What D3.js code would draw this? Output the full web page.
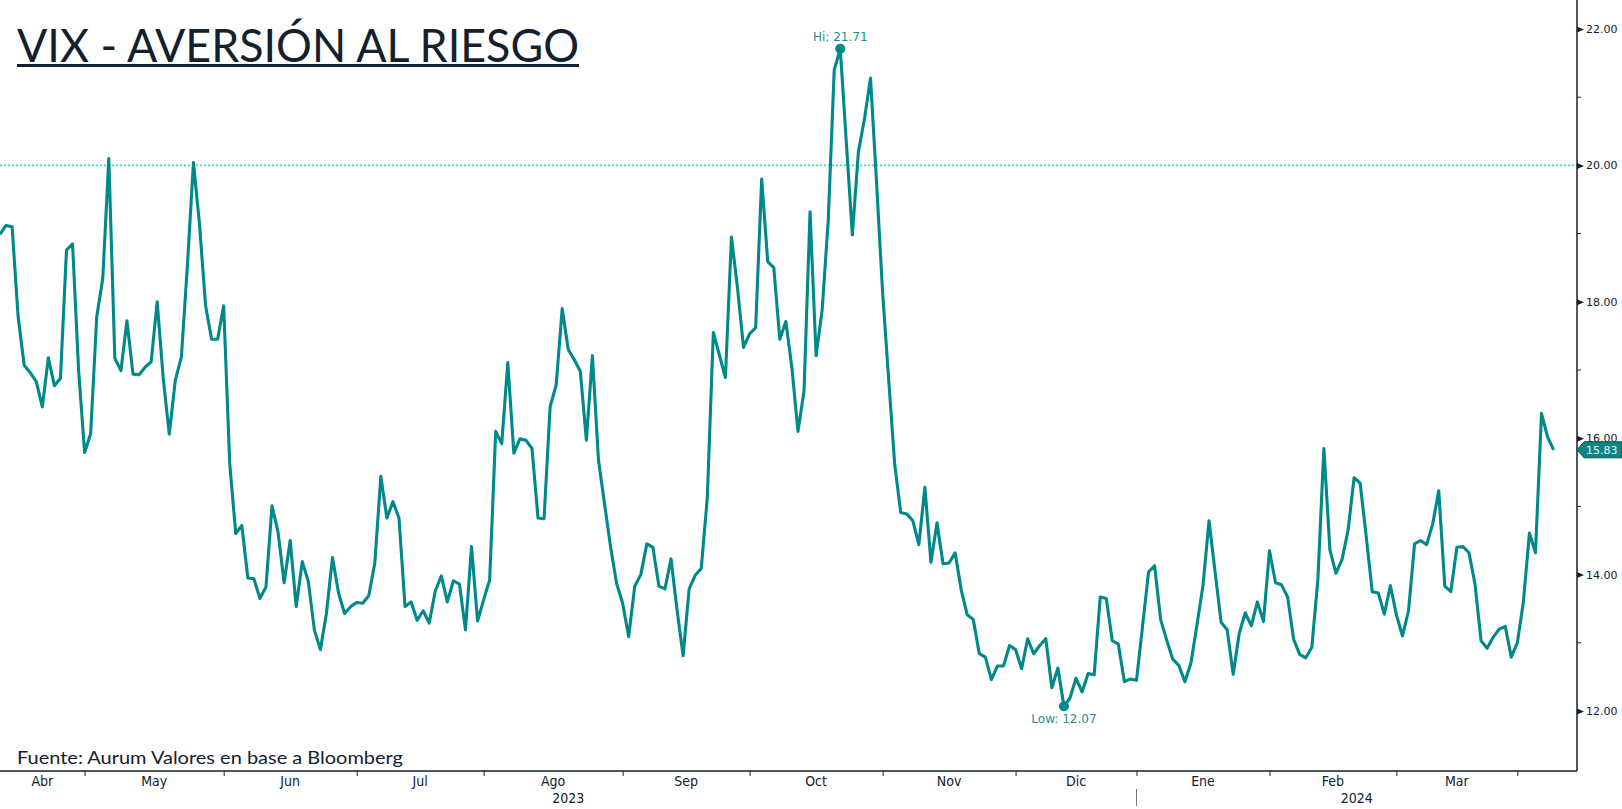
<!DOCTYPE html>
<html>
<head>
<meta charset="utf-8">
<script src="https://cdn.jsdelivr.net/npm/d3@7"></script>
<style>
  html, body { margin: 0; padding: 0; background: #fff; }
  svg { display: block; }
  .axis-lbl { font-family: "DejaVu Sans", Verdana, sans-serif; font-size: 11px; fill: #13202e; }
  .month-lbl { font-family: "Liberation Sans Narrow", "DejaVu Sans Condensed", "Arial Narrow", sans-serif; font-size: 14px; fill: #13202e; }
</style>
</head>
<body>
<div id="chart"></div>
<script>
// VIX daily closes (one value per weekday)
const vix = [
  18.99, 19.12, 19.10, 17.78, 17.07, 16.96, 16.83, 16.46, 17.18, 16.77,
  16.88, 18.76, 18.85, 17.00, 15.79, 16.07, 17.78, 18.34, 20.10, 17.17,
  16.99, 17.72, 16.94, 16.93, 17.04, 17.12, 18.00, 16.88, 16.06, 16.85,
  17.19, 18.53, 20.04, 19.14, 17.95, 17.45, 17.45, 17.94, 15.63, 14.60,
  14.72, 13.95, 13.94, 13.65, 13.82, 15.01, 14.62, 13.88, 14.50, 13.53,
  14.19, 13.90, 13.19, 12.90, 13.43, 14.25, 13.73, 13.43, 13.53, 13.59,
  13.58, 13.69, 14.17, 15.44, 14.83, 15.07, 14.83, 13.53, 13.60, 13.33,
  13.47, 13.29, 13.76, 13.98, 13.60, 13.91, 13.86, 13.19, 14.41, 13.32,
  13.63, 13.92, 16.10, 15.92, 17.11, 15.78, 15.99, 15.97, 15.85, 14.83,
  14.82, 16.46, 16.78, 17.90, 17.30, 17.15, 16.98, 15.97, 17.21, 15.68,
  15.04, 14.41, 13.87, 13.58, 13.09, 13.83, 14.00, 14.45, 14.40, 13.83,
  13.79, 14.23, 13.48, 12.81, 13.79, 13.99, 14.09, 15.12, 17.55, 17.22,
  16.89, 18.95, 18.20, 17.33, 17.53, 17.62, 19.80, 18.59, 18.50, 17.45,
  17.71, 17.03, 16.10, 16.69, 19.32, 17.21, 17.88, 19.18, 21.40, 21.71,
  20.34, 18.98, 20.20, 20.68, 21.28, 19.75, 18.14, 16.87, 15.62, 14.91,
  14.89, 14.79, 14.44, 15.28, 14.18, 14.76, 14.16, 14.17, 14.32, 13.78,
  13.41, 13.34, 12.84, 12.79, 12.46, 12.66, 12.66, 12.96, 12.90, 12.62,
  13.06, 12.84, 12.96, 13.06, 12.34, 12.63, 12.07, 12.19, 12.48, 12.28,
  12.55, 12.53, 13.67, 13.65, 13.03, 12.98, 12.43, 12.47, 12.45, 13.24,
  14.04, 14.13, 13.34, 13.04, 12.76, 12.67, 12.43, 12.70, 13.26, 13.84,
  14.79, 14.04, 13.30, 13.19, 12.54, 13.14, 13.44, 13.25, 13.60, 13.31,
  14.35, 13.88, 13.85, 13.67, 13.05, 12.83, 12.78, 12.93, 13.92, 15.85,
  14.36, 14.02, 14.22, 14.65, 15.42, 15.34, 14.56, 13.75, 13.73, 13.42,
  13.84, 13.41, 13.10, 13.47, 14.45, 14.50, 14.44, 14.74, 15.23, 13.83,
  13.75, 14.40, 14.41, 14.32, 13.86, 13.03, 12.92, 13.08, 13.20, 13.24,
  12.79, 13.00, 13.60, 14.61, 14.32, 16.36, 16.02, 15.83
];

// month boundaries (index of last point before each new month)
const monthTicks = [14, 37, 59, 80, 103, 124, 146, 168, 188, 210, 231, 251];
const monthNames = ['Abr', 'May', 'Jun', 'Jul', 'Ago', 'Sep', 'Oct', 'Nov', 'Dic', 'Ene', 'Feb', 'Mar'];
const years = ['2023', '2024'];
const yearBreak = 188;

const yTicks = [12, 14, 16, 18, 20, 22];
const yMinor = [13, 15, 17, 19, 21];
const refLevel = 20;

const W = 1622, H = 809;
const plot = { left: 0, right: 1577, top: 0, bottom: 771 };
const teal = '#00898a';
const ink = '#13202e';

const svg = d3.select('#chart').append('svg')
    .attr('width', W)
    .attr('height', H);

const x = d3.scaleLinear()
    .domain([0, vix.length - 1])
    .range([0, 1553.6]);

const y = d3.scaleLinear()
    .domain([12, 22])
    .range([711, 29]);

svg.append('clipPath').attr('id', 'clip')
    .append('rect')
    .attr('x', plot.left).attr('y', plot.top)
    .attr('width', plot.right - plot.left).attr('height', plot.bottom - plot.top);

// dotted reference at 20
svg.append('line')
    .attr('x1', plot.left).attr('x2', plot.right)
    .attr('y1', y(refLevel)).attr('y2', y(refLevel))
    .attr('stroke', '#3fd3d3')
    .attr('stroke-width', 1.6)
    .attr('stroke-dasharray', '2,2');

// title
svg.append('text')
    .attr('x', 17).attr('y', 62)
    .attr('textLength', 562)
    .attr('lengthAdjust', 'spacingAndGlyphs')
    .style('font-family', 'Lato, "Noto Sans", sans-serif')
    .style('font-size', '46px')
    .style('fill', ink)
    .text('VIX - AVERSIÓN AL RIESGO');
svg.append('rect')
    .attr('x', 17).attr('y', 64)
    .attr('width', 562).attr('height', 3)
    .attr('fill', ink);

// source
svg.append('text')
    .attr('x', 17).attr('y', 764)
    .attr('textLength', 386)
    .attr('lengthAdjust', 'spacingAndGlyphs')
    .style('font-family', 'Lato, "Noto Sans", sans-serif')
    .style('font-size', '18px')
    .style('fill', ink)
    .text('Fuente: Aurum Valores en base a Bloomberg');

// line
const line = d3.line()
    .x((d, i) => x(i))
    .y(d => y(d));

svg.append('path')
    .datum(vix)
    .attr('clip-path', 'url(#clip)')
    .attr('d', line)
    .attr('fill', 'none')
    .attr('stroke', teal)
    .attr('stroke-width', 3.1)
    .attr('stroke-linejoin', 'round');

// bottom axis
const xAxis = svg.append('g')
    .attr('transform', `translate(0, ${plot.bottom})`)
    .call(d3.axisBottom(x).tickValues(monthTicks).tickSize(5).tickFormat(''));
xAxis.select('.domain').remove();
xAxis.selectAll('.tick line').attr('stroke', ink);
svg.append('line')
    .attr('x1', plot.left).attr('x2', plot.right)
    .attr('y1', plot.bottom).attr('y2', plot.bottom)
    .attr('stroke', ink).attr('stroke-width', 1.5);

// month labels centred between boundaries
const bounds = [plot.left].concat(monthTicks.map(t => x(t)));
monthNames.forEach((m, i) => {
    svg.append('text')
        .attr('class', 'month-lbl')
        .attr('x', (bounds[i] + bounds[i + 1]) / 2)
        .attr('y', 786)
        .attr('text-anchor', 'middle')
        .text(m);
});

// years
const yb = x(yearBreak);
svg.append('text').attr('class', 'month-lbl')
    .attr('x', (plot.left + yb) / 2).attr('y', 803)
    .attr('text-anchor', 'middle').text(years[0]);
svg.append('text').attr('class', 'month-lbl')
    .attr('x', (yb + plot.right) / 2).attr('y', 803)
    .attr('text-anchor', 'middle').text(years[1]);
svg.append('line')
    .attr('x1', yb).attr('x2', yb)
    .attr('y1', 789).attr('y2', 806)
    .attr('stroke', '#777').attr('stroke-width', 1);

// right axis
const yAxis = svg.append('g')
    .attr('transform', `translate(${plot.right}, 0)`)
    .call(d3.axisRight(y).tickValues(yTicks).tickSize(0).tickPadding(9).tickFormat(d3.format('.2f')));
yAxis.select('.domain').remove();
yAxis.selectAll('.tick text').attr('class', 'axis-lbl').attr('font-size', null).attr('font-family', null);
yAxis.selectAll('.tick').append('path')
    .attr('d', 'M0,-3L7,0L0,3Z')
    .attr('fill', ink);
svg.append('g').selectAll('line')
    .data(yMinor)
    .enter().append('line')
    .attr('x1', plot.right).attr('x2', plot.right + 4)
    .attr('y1', d => y(d)).attr('y2', d => y(d))
    .attr('stroke', ink);
svg.append('line')
    .attr('x1', plot.right).attr('x2', plot.right)
    .attr('y1', 0).attr('y2', plot.bottom)
    .attr('stroke', ink).attr('stroke-width', 1.5);

// hi / low markers
const hiIdx = d3.maxIndex(vix);
const loIdx = d3.minIndex(vix);
[[hiIdx, 'Hi: ', -8], [loIdx, 'Low: ', 17]].forEach(([i, lbl, dy]) => {
    svg.append('circle')
        .attr('cx', x(i)).attr('cy', y(vix[i]))
        .attr('r', 5)
        .attr('fill', teal);
    svg.append('text')
        .attr('x', x(i)).attr('y', y(vix[i]) + dy)
        .attr('text-anchor', 'middle')
        .style('font-family', '"DejaVu Sans", sans-serif')
        .style('font-size', '12px')
        .style('fill', '#1a9096')
        .text(lbl + vix[i].toFixed(2));
});

// last value tag
const last = vix[vix.length - 1];
const ly = y(last);
svg.append('path')
    .attr('d', `M${plot.right},${ly} L${plot.right + 7},${ly - 8} L${W},${ly - 8} L${W},${ly + 8} L${plot.right + 7},${ly + 8} Z`)
    .attr('fill', '#0a8785')
    .attr('stroke', '#0b4f52')
    .attr('stroke-width', 1);
svg.append('text')
    .attr('x', plot.right + 9).attr('y', ly + 4)
    .style('font-family', '"DejaVu Sans", sans-serif')
    .style('font-size', '11px')
    .style('fill', '#f2f2f2')
    .text(last.toFixed(2));
</script>
</body>
</html>
